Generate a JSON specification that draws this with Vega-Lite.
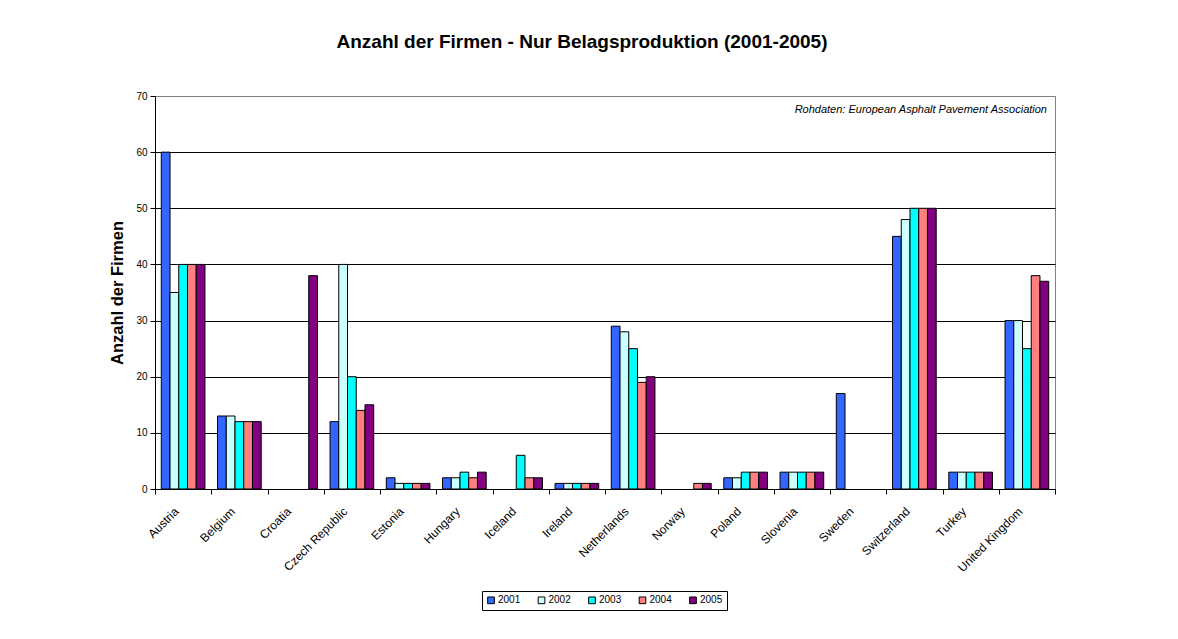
{
  "$schema": "https://vega.github.io/schema/vega-lite/v6.json",
  "width": 900,
  "height": 393,
  "autosize": "none",
  "padding": {"left": 155, "top": 96, "right": 123, "bottom": 150},
  "background": "white",
  "config": {
    "font": "Liberation Sans",
    "view": {"stroke": "#808080", "strokeWidth": 1},
    "axis": {"labelColor": "black", "titleColor": "black", "domainColor": "black", "tickColor": "black", "labelFont": "Liberation Sans", "titleFont": "Liberation Sans"}
  },
  "title": {
    "text": "Anzahl der Firmen - Nur Belagsproduktion (2001-2005)",
    "fontSize": 19,
    "fontWeight": "bold",
    "font": "Liberation Sans",
    "color": "black",
    "anchor": "middle",
    "dx": -23,
    "offset": 39
  },
  "data": {
    "values": [
      {"country": "Austria", "year": "2001", "value": 60},
      {"country": "Austria", "year": "2002", "value": 35},
      {"country": "Austria", "year": "2003", "value": 40},
      {"country": "Austria", "year": "2004", "value": 40},
      {"country": "Austria", "year": "2005", "value": 40},
      {"country": "Belgium", "year": "2001", "value": 13},
      {"country": "Belgium", "year": "2002", "value": 13},
      {"country": "Belgium", "year": "2003", "value": 12},
      {"country": "Belgium", "year": "2004", "value": 12},
      {"country": "Belgium", "year": "2005", "value": 12},
      {"country": "Croatia", "year": "2005", "value": 38},
      {"country": "Czech Republic", "year": "2001", "value": 12},
      {"country": "Czech Republic", "year": "2002", "value": 40},
      {"country": "Czech Republic", "year": "2003", "value": 20},
      {"country": "Czech Republic", "year": "2004", "value": 14},
      {"country": "Czech Republic", "year": "2005", "value": 15},
      {"country": "Estonia", "year": "2001", "value": 2},
      {"country": "Estonia", "year": "2002", "value": 1},
      {"country": "Estonia", "year": "2003", "value": 1},
      {"country": "Estonia", "year": "2004", "value": 1},
      {"country": "Estonia", "year": "2005", "value": 1},
      {"country": "Hungary", "year": "2001", "value": 2},
      {"country": "Hungary", "year": "2002", "value": 2},
      {"country": "Hungary", "year": "2003", "value": 3},
      {"country": "Hungary", "year": "2004", "value": 2},
      {"country": "Hungary", "year": "2005", "value": 3},
      {"country": "Iceland", "year": "2003", "value": 6},
      {"country": "Iceland", "year": "2004", "value": 2},
      {"country": "Iceland", "year": "2005", "value": 2},
      {"country": "Ireland", "year": "2001", "value": 1},
      {"country": "Ireland", "year": "2002", "value": 1},
      {"country": "Ireland", "year": "2003", "value": 1},
      {"country": "Ireland", "year": "2004", "value": 1},
      {"country": "Ireland", "year": "2005", "value": 1},
      {"country": "Netherlands", "year": "2001", "value": 29},
      {"country": "Netherlands", "year": "2002", "value": 28},
      {"country": "Netherlands", "year": "2003", "value": 25},
      {"country": "Netherlands", "year": "2004", "value": 19},
      {"country": "Netherlands", "year": "2005", "value": 20},
      {"country": "Norway", "year": "2004", "value": 1},
      {"country": "Norway", "year": "2005", "value": 1},
      {"country": "Poland", "year": "2001", "value": 2},
      {"country": "Poland", "year": "2002", "value": 2},
      {"country": "Poland", "year": "2003", "value": 3},
      {"country": "Poland", "year": "2004", "value": 3},
      {"country": "Poland", "year": "2005", "value": 3},
      {"country": "Slovenia", "year": "2001", "value": 3},
      {"country": "Slovenia", "year": "2002", "value": 3},
      {"country": "Slovenia", "year": "2003", "value": 3},
      {"country": "Slovenia", "year": "2004", "value": 3},
      {"country": "Slovenia", "year": "2005", "value": 3},
      {"country": "Sweden", "year": "2001", "value": 17},
      {"country": "Switzerland", "year": "2001", "value": 45},
      {"country": "Switzerland", "year": "2002", "value": 48},
      {"country": "Switzerland", "year": "2003", "value": 50},
      {"country": "Switzerland", "year": "2004", "value": 50},
      {"country": "Switzerland", "year": "2005", "value": 50},
      {"country": "Turkey", "year": "2001", "value": 3},
      {"country": "Turkey", "year": "2002", "value": 3},
      {"country": "Turkey", "year": "2003", "value": 3},
      {"country": "Turkey", "year": "2004", "value": 3},
      {"country": "Turkey", "year": "2005", "value": 3},
      {"country": "United Kingdom", "year": "2001", "value": 30},
      {"country": "United Kingdom", "year": "2002", "value": 30},
      {"country": "United Kingdom", "year": "2003", "value": 25},
      {"country": "United Kingdom", "year": "2004", "value": 38},
      {"country": "United Kingdom", "year": "2005", "value": 37}
    ]
  },
  "layer": [
    {
      "mark": {"type": "bar", "stroke": "black", "strokeWidth": 1},
      "encoding": {
        "x": {
          "field": "country",
          "type": "nominal",
          "sort": null,
          "scale": {"paddingInner": 0, "paddingOuter": 0},
          "axis": {
            "title": null,
            "tickBand": "extent",
            "labelAngle": -45,
            "labelAlign": "right",
            "labelBaseline": "middle",
            "labelFontSize": 12,
            "labelPadding": 15,
            "labelOffset": -7,
            "tickSize": 5,
            "grid": false
          }
        },
        "xOffset": {
          "field": "year",
          "type": "nominal",
          "scale": {"paddingInner": 0, "paddingOuter": 0.72}
        },
        "y": {
          "field": "value",
          "type": "quantitative",
          "scale": {"domain": [0, 70], "nice": false},
          "axis": {
            "title": "Anzahl der Firmen",
            "titleFontSize": 16.5,
            "titleFontWeight": "bold",
            "titlePadding": 10,
            "values": [0, 10, 20, 30, 40, 50, 60, 70],
            "labelFontSize": 10,
            "labelPadding": 3,
            "tickSize": 5,
            "grid": true,
            "gridColor": {"condition": {"test": "datum.value == 70", "value": "#808080"}, "value": "black"},
            "gridOpacity": 1
          }
        },
        "color": {
          "field": "year",
          "type": "nominal",
          "scale": {
            "domain": ["2001", "2002", "2003", "2004", "2005"],
            "range": ["#3366FF", "#CCFFFF", "#00FFFF", "#FF8080", "#800080"]
          },
          "legend": {
            "title": null,
            "orient": "none",
            "legendX": 327,
            "legendY": 495,
            "direction": "horizontal",
            "symbolType": "square",
            "symbolSize": 45,
            "symbolStrokeColor": "black",
            "symbolStrokeWidth": 1,
            "symbolOpacity": 1,
            "labelFontSize": 10,
            "labelColor": "black",
            "labelFont": "Liberation Sans",
            "labelOffset": 2,
            "columnPadding": 14.5,
            "strokeColor": "black",
            "padding": 4
          }
        }
      }
    },
    {
      "data": {"values": [{"country": "United Kingdom", "pos": 67.5, "note": "Rohdaten: European Asphalt Pavement Association"}]},
      "mark": {"type": "text", "align": "right", "baseline": "middle", "dx": -8, "fontStyle": "italic", "fontSize": 11, "font": "Liberation Sans", "color": "black"},
      "encoding": {
        "x": {"field": "country", "type": "nominal", "bandPosition": 1},
        "y": {"field": "pos", "type": "quantitative"},
        "text": {"field": "note"}
      }
    }
  ]
}
